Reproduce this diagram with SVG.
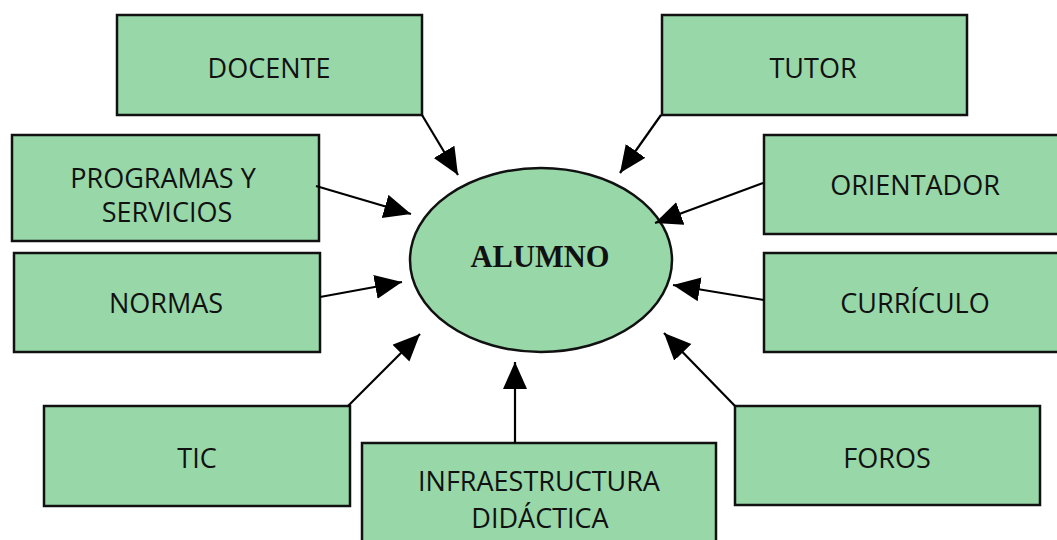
<svg xmlns="http://www.w3.org/2000/svg" width="1057" height="540" viewBox="0 0 1057 540">
<style>
.box{fill:#98d7a8;stroke:#111;stroke-width:2.5}
.lbl{font-family:"Open Sans","Liberation Sans",sans-serif;font-size:27px;fill:#111;text-anchor:middle}
.c line{stroke:#000;stroke-width:2.2;marker-end:url(#ah)}
</style>
<defs>
<marker id="ah" markerUnits="userSpaceOnUse" markerWidth="30" markerHeight="26" refX="27" refY="12" orient="auto">
<path d="M0,0 L27,12 L0,24 z" fill="#000"/>
</marker>
</defs>
<rect width="1057" height="540" fill="#fff"/>
<g id="alumno">
<ellipse cx="541" cy="260" rx="131" ry="92" class="box"/>
<text x="540" y="267" font-family="'Liberation Serif',serif" font-weight="bold" font-size="30.5" text-anchor="middle" fill="#111">ALUMNO</text>
</g>
<g id="docente"><rect x="117" y="15" width="305" height="100" class="box"/><text x="269" y="78" class="lbl">DOCENTE</text></g>
<g id="tutor"><rect x="662" y="15" width="305" height="100" class="box"/><text x="813" y="78" class="lbl">TUTOR</text></g>
<g id="programas"><rect x="12" y="135" width="307" height="106" class="box"/><text x="163" y="188" class="lbl">PROGRAMAS Y</text><text x="167" y="222" class="lbl">SERVICIOS</text></g>
<g id="orientador"><rect x="764" y="135" width="300" height="99" class="box"/><text x="915" y="195" class="lbl">ORIENTADOR</text></g>
<g id="normas"><rect x="14" y="253" width="306" height="99" class="box"/><text x="166" y="313" class="lbl">NORMAS</text></g>
<g id="curriculo"><rect x="764" y="253" width="300" height="99" class="box"/><text x="915" y="313" class="lbl">CURRÍCULO</text></g>
<g id="tic"><rect x="44" y="406" width="306" height="100" class="box"/><text x="197" y="468" class="lbl">TIC</text></g>
<g id="foros"><rect x="735" y="406" width="305" height="99" class="box"/><text x="887" y="468" class="lbl">FOROS</text></g>
<g id="infraestructura"><rect x="362" y="443" width="354" height="110" class="box"/><text x="539" y="491" class="lbl">INFRAESTRUCTURA</text><text x="540" y="528" class="lbl">DIDÁCTICA</text></g>
<g id="connectors" class="c">
<line x1="422" y1="115" x2="458" y2="175"/>
<line x1="661" y1="115" x2="620" y2="173"/>
<line x1="316" y1="186" x2="411" y2="214"/>
<line x1="763" y1="183" x2="655" y2="223"/>
<line x1="320" y1="297" x2="402" y2="282"/>
<line x1="764" y1="300" x2="673" y2="285"/>
<line x1="348" y1="406" x2="420" y2="334"/>
<line x1="515" y1="443" x2="515" y2="362"/>
<line x1="735" y1="406" x2="664" y2="333"/>
</g>
</svg>
